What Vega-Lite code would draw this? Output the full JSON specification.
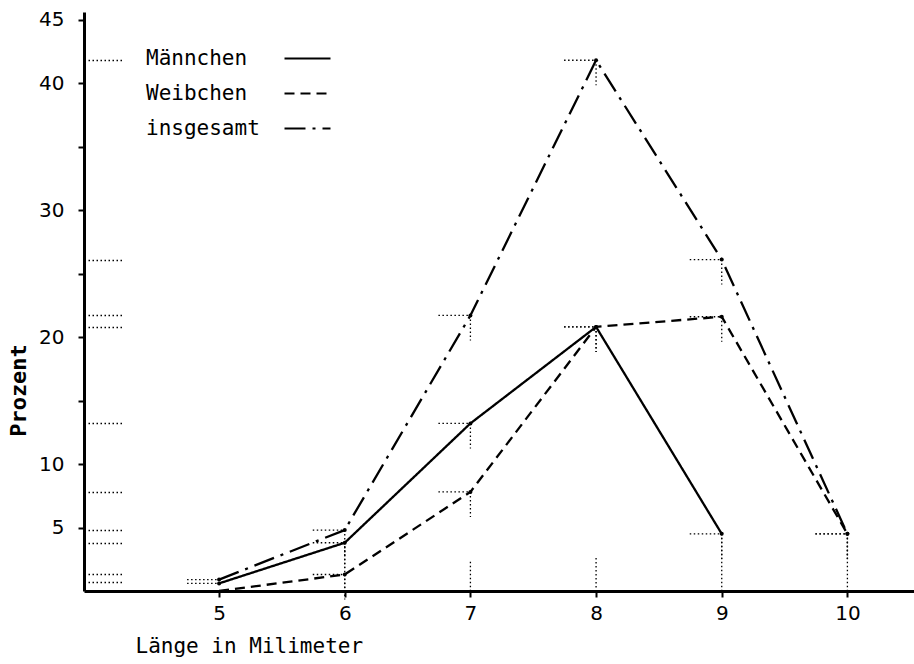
{
  "$schema": "https://vega.github.io/schema/vega-lite/v6.json",
  "width": 830,
  "height": 579,
  "autosize": {"type": "none"},
  "padding": {"left": 84, "top": 12, "right": 0, "bottom": 73},
  "background": "white",
  "config": {
    "view": {"stroke": null},
    "axis": {"grid": false}
  },
  "datasets": {
    "points": [
      {"series": "Männchen", "x": 5, "y": 0.6},
      {"series": "Männchen", "x": 6, "y": 3.8},
      {"series": "Männchen", "x": 7, "y": 13.2},
      {"series": "Männchen", "x": 8, "y": 20.8},
      {"series": "Männchen", "x": 9, "y": 4.5},
      {"series": "Weibchen", "x": 5, "y": 0},
      {"series": "Weibchen", "x": 6, "y": 1.3},
      {"series": "Weibchen", "x": 7, "y": 7.8},
      {"series": "Weibchen", "x": 8, "y": 20.8},
      {"series": "Weibchen", "x": 9, "y": 21.6},
      {"series": "Weibchen", "x": 10, "y": 4.5},
      {"series": "insgesamt", "x": 5, "y": 0.9},
      {"series": "insgesamt", "x": 6, "y": 4.8},
      {"series": "insgesamt", "x": 7, "y": 21.7},
      {"series": "insgesamt", "x": 8, "y": 41.8},
      {"series": "insgesamt", "x": 9, "y": 26.1},
      {"series": "insgesamt", "x": 10, "y": 4.5}
    ],
    "drops": [
      {"x": 6, "top": 3.8, "base": 0},
      {"x": 7, "top": 2.3, "base": 0},
      {"x": 8, "top": 2.6, "base": 0},
      {"x": 9, "top": 4.5, "base": 0},
      {"x": 10, "top": 4.5, "base": 0}
    ]
  },
  "resolve": {"axis": {"y": "independent"}},
  "layer": [
    {
      "data": {"name": "drops"},
      "mark": {"type": "rule", "color": "black", "strokeWidth": 1.3, "strokeDash": [1.5, 2.5]},
      "encoding": {
        "x": {"field": "x", "type": "quantitative", "scale": {"domain": [3.925, 10.53], "nice": false, "zero": false}},
        "y": {"field": "top", "type": "quantitative", "scale": {"domain": [0, 45.6], "nice": false, "zero": false}, "axis": null},
        "y2": {"field": "base"}
      }
    },
    {
      "data": {"name": "points"},
      "transform": [{"filter": "datum.y > 0"}],
      "mark": {"type": "rule", "color": "black", "strokeWidth": 1.3, "strokeDash": [1.5, 2.5], "xOffset": -32},
      "encoding": {
        "x": {"field": "x", "type": "quantitative"},
        "x2": {"field": "x"},
        "y": {"field": "y", "type": "quantitative", "axis": null}
      }
    },
    {
      "data": {"name": "points"},
      "transform": [{"filter": "datum.y > 0 && datum.x > 5"}],
      "mark": {"type": "rule", "color": "black", "strokeWidth": 1.3, "strokeDash": [1.5, 2.5], "y2Offset": 25},
      "encoding": {
        "x": {"field": "x", "type": "quantitative"},
        "y": {"field": "y", "type": "quantitative", "axis": null},
        "y2": {"field": "y"}
      }
    },
    {
      "data": {"name": "points"},
      "mark": {"type": "line", "color": "black", "strokeWidth": 2.3},
      "encoding": {
        "x": {
          "field": "x", "type": "quantitative",
          "axis": {
            "values": [5, 6, 7, 8, 9, 10],
            "format": "d",
            "title": "Länge in Milimeter",
            "domainColor": "black", "domainWidth": 3,
            "tickColor": "black", "tickWidth": 2, "tickSize": 6,
            "labelFont": "DejaVu Sans", "labelFontSize": 20, "labelColor": "black", "labelPadding": 6,
            "titleFont": "DejaVu Sans Mono", "titleFontSize": 21, "titleFontWeight": "normal", "titleColor": "black",
            "titleAnchor": "start", "titleAlign": "left", "titleX": 51, "titleY": 55, "titleBaseline": "middle"
          }
        },
        "y": {
          "field": "y", "type": "quantitative",
          "axis": {
            "values": [5, 10, 15, 20, 25, 30, 35, 40, 45],
            "labelExpr": "indexof([15, 25, 35], datum.value) >= 0 ? '' : datum.label",
            "title": "Prozent",
            "domainColor": "black", "domainWidth": 3,
            "tickColor": "black", "tickWidth": 2, "tickSize": 6,
            "labelFont": "DejaVu Sans", "labelFontSize": 20, "labelColor": "black", "labelPadding": 14,
            "titleFont": "DejaVu Sans Mono", "titleFontSize": 22, "titleFontWeight": "bold", "titleColor": "black",
            "titleX": -66, "titleY": 378, "titleAlign": "center", "titleBaseline": "middle"
          }
        },
        "strokeDash": {
          "field": "series", "type": "nominal",
          "scale": {"domain": ["Männchen", "Weibchen", "insgesamt"], "range": [[1, 0], [10, 6], [21, 7, 3, 7]]},
          "legend": {
            "orient": "none", "legendX": 199, "legendY": 22,
            "title": null, "padding": 0,
            "symbolType": "stroke", "symbolSize": 2116, "symbolStrokeWidth": 2.2,
            "symbolStrokeColor": "black",
            "labelFont": "DejaVu Sans Mono", "labelFontSize": 21, "labelColor": "black",
            "labelOffset": -186, "labelAlign": "left", "rowPadding": -7
          }
        }
      }
    },
    {
      "data": {"name": "points"},
      "transform": [{"filter": "datum.y > 0"}],
      "mark": {"type": "point", "filled": true, "color": "black", "size": 16, "opacity": 1},
      "encoding": {
        "x": {"field": "x", "type": "quantitative"},
        "y": {
          "field": "y", "type": "quantitative",
          "axis": {
            "orient": "left",
            "values": [41.8, 26.1, 21.7, 20.8, 13.2, 7.8, 4.8, 3.8, 1.3, 0.7],
            "labels": false, "domain": false, "title": null,
            "tickColor": "black", "tickWidth": 1.3, "tickSize": -40, "tickDash": [1.5, 2.5]
          }
        }
      }
    }
  ]
}
